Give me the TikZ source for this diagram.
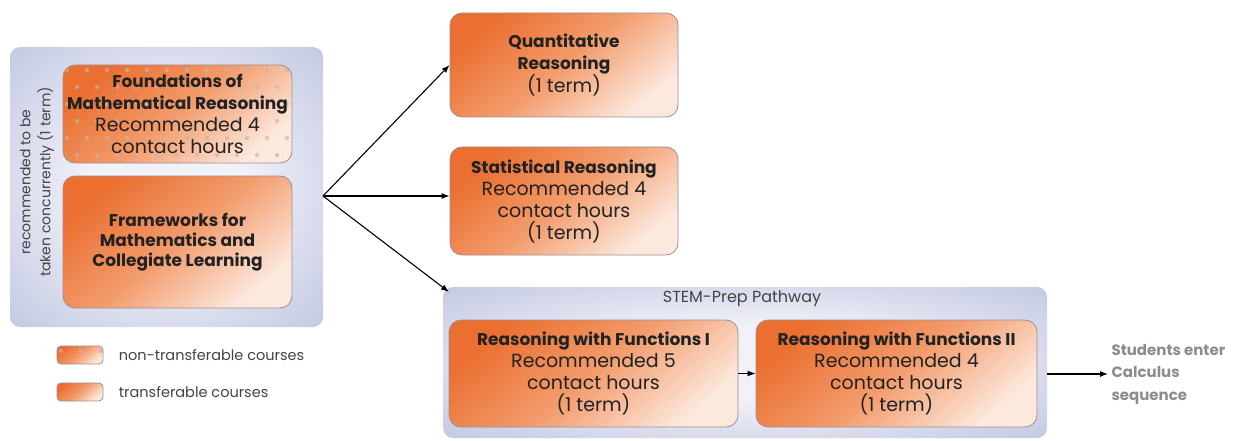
\documentclass[tikz,border=0pt]{standalone}
\usepackage{fontspec}
\setmainfont{Poppins}
\usetikzlibrary{arrows.meta,positioning}

\definecolor{orgdark}{HTML}{EA6F30}
\definecolor{orgmid}{HTML}{F39C6D}
\definecolor{orglight}{HTML}{FCE9DE}
\definecolor{lavedge}{HTML}{B7BEDD}
\definecolor{lavmid}{HTML}{F1F1F8}
\definecolor{boxline}{HTML}{A08E92}
\definecolor{dotcol}{HTML}{C9B3AD}
\definecolor{textdark}{HTML}{222222}
\definecolor{notegray}{HTML}{8C8C8C}

\pgfdeclareradialshading{lavglow}{\pgfpoint{0bp}{0bp}}{%
  color(0bp)=(lavmid); color(12bp)=(lavmid); color(42bp)=(lavedge); color(80bp)=(lavedge)}

\newcommand{\coursefont}{\fontsize{19}{22}\selectfont}
\newcommand{\hd}[1]{{\fontsize{17}{22}\selectfont\bfseries #1}}
\newcommand{\notefont}{\fontsize{14}{20}\selectfont}
\newcommand{\legendfont}{\fontsize{14.5}{16}\selectfont}

\tikzset{
  course/.style={draw=boxline, line width=0.8, rounded corners=12,
    top color=orgdark, bottom color=orglight, middle color=orgmid,
    shading angle=40, align=center, inner sep=0, font=\coursefont,
    text=textdark},
  dotty/.style={path picture={
    \foreach \r in {0,...,6} \foreach \c in {0,...,12}
      \fill[dotcol, opacity=0.65] ([shift={({4+20*\c+10*mod(\r,2)},{5+17*\r})}]path picture bounding box.north west) circle (2.2);}},
  panel/.style={rounded corners=10, shading=lavglow, inner sep=0},
  flow/.style={-{Latex[length=8,width=6]}, line width=1.1},
}

\begin{document}
\begin{tikzpicture}[x=1pt, y=-1pt]
  \useasboundingbox (0,0) rectangle (1242,441);

  % panels
  \node (conc) [panel, minimum width=313, minimum height=280] at (166.5,187) {};
  \node (stem) [panel, minimum width=604, minimum height=151] at (745,362.5) {};

  % left group
  \node (found) [course, dotty, minimum width=229, minimum height=98] at (177.5,114)
    {\hd{Foundations of}\\\hd{Mathematical Reasoning}\\Recommended 4\\contact hours};
  \node (frame) [course, minimum width=229, minimum height=132] at (177.5,242)
    {\hd{Frameworks for}\\[-2pt]\hd{Mathematics and}\\[-2pt]\hd{Collegiate Learning}};
  \node (note) [rotate=90, align=center, font=\notefont, text=textdark!85] at (37,182)
    {recommended to be\\taken concurrently (1 term)};

  % right group
  \node (quant) [course, minimum width=228, minimum height=104] at (564,65)
    {\hd{Quantitative}\\\hd{Reasoning}\\(1 term)};
  \node (stat) [course, minimum width=228, minimum height=108] at (564,201)
    {\hd{Statistical Reasoning}\\Recommended 4\\contact hours\\(1 term)};
  \node (stemtitle) [font=\fontsize{16}{18}\selectfont, text=textdark!85] at (742,299) {STEM-Prep Pathway};
  \node (rf1) [course, minimum width=289, minimum height=107] at (593.5,373.5)
    {\hd{Reasoning with Functions I}\\Recommended 5\\contact hours\\(1 term)};
  \node (rf2) [course, minimum width=281, minimum height=107] at (896.5,373.5)
    {\hd{Reasoning with Functions II}\\Recommended 4\\contact hours\\(1 term)};
  \node (calc) [anchor=west, align=left, font=\fontsize{15}{22.5}\selectfont\bfseries, text=notegray] at (1108,374)
    {Students enter\\Calculus\\sequence};

  % legend
  \node (legnt) [course, dotty, rounded corners=4, minimum width=46, minimum height=18] at (80,355) {};
  \node (legt) [course, rounded corners=4, minimum width=46, minimum height=18] at (80,392) {};
  \node (legnttext) [right=12 of legnt, font=\legendfont, text=textdark!85] {non-transferable courses};
  \node (legttext) [right=12 of legt, font=\legendfont, text=textdark!85] {transferable courses};

  % connectors
  \coordinate (fork) at (323,196);
  \coordinate (stemin) at (449,292);
  \draw[flow] (fork) -- (quant.west);
  \draw[flow] (fork) -- (fork -| stat.west);
  \draw[flow] (fork) -- (stemin);
  \draw[flow] (rf1) -- (rf2);
  \draw[flow] (stem.east |- calc.west) -- (calc.west);
\end{tikzpicture}
\end{document}
